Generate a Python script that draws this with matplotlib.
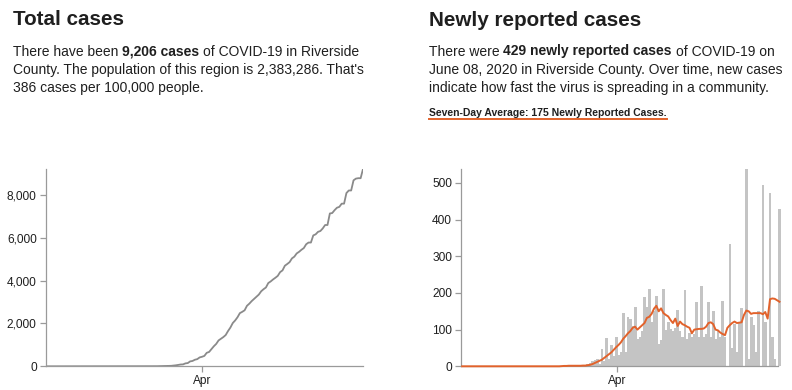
import matplotlib
matplotlib.use("Agg")
import matplotlib.pyplot as plt
import matplotlib.dates as mdates
from matplotlib.ticker import FuncFormatter
import numpy as np
import datetime as dt

plt.rcParams['font.family'] = ['Liberation Sans', 'DejaVu Sans']

# ---------------- data ----------------
start_date = dt.date(2020, 1, 26)
end_date = dt.date(2020, 6, 8)

daily_new = [
    # Jan 26 - Mar 7
    0, 0, 0, 0, 0, 0, 0, 0, 0, 0,
    0, 0, 0, 0, 0, 0, 0, 0, 0, 0,
    0, 0, 0, 0, 0, 0, 0, 0, 0, 0,
    0, 0, 0, 0, 0, 0, 0, 0, 0, 0,
    0, 0,
    # Mar 8 - Mar 16
    0, 1, 0, 2, 1, 1, 2, 1, 2,
    # Mar 17 - Mar 23
    3, 4, 5, 10, 15, 18, 19,
    # Mar 24 - Mar 30
    5, 47, 15, 78, 20, 57, 28,
    # Mar 31 - Apr 6
    80, 30, 40, 145, 40, 135, 130,
    # Apr 7 - Apr 13
    110, 163, 75, 80, 95, 188, 163,
    # Apr 14 - Apr 20
    210, 120, 150, 193, 60, 72, 210,
    # Apr 21 - Apr 27
    100, 120, 101, 97, 105, 154, 97,
    # Apr 28 - May 4
    80, 207, 75, 92, 80, 88, 175,
    # May 5 - May 11
    80, 218, 80, 88, 175, 80, 151,
    # May 12 - May 18
    75, 95, 80, 178, 80, 0, 333,
    # May 19 - May 25
    50, 115, 40, 120, 160, 0, 538,
    # May 26 - Jun 1
    20, 135, 113, 40, 150, 0, 495,
    # Jun 2 - Jun 8
    120, 0, 473, 80, 20, 0, 429,
]

seven_day_avg = [
    # Jan 26 - Mar 7
    0, 0, 0, 0, 0, 0, 0, 0, 0, 0,
    0, 0, 0, 0, 0, 0, 0, 0, 0, 0,
    0, 0, 0, 0, 0, 0, 0, 0, 0, 0,
    0, 0, 0, 0, 0, 0, 0, 0, 0, 0,
    0, 0,
    # Mar 8 - Mar 19
    0.5, 1, 1, 1.5, 1.5, 1.5, 1.5, 1.5, 1.5, 2, 2, 3,
    # Mar 20 - Mar 31
    4, 6, 9, 12, 15, 18, 23, 28, 33, 38, 45, 52,
    # Apr 1 - Jun 8
    58, 65, 75, 82, 90, 96, 105, 108, 100, 106,
    112, 118, 132, 135, 143, 157, 165, 150, 158, 145,
    140, 136, 126, 118, 130, 110, 122, 115, 112, 108,
    105, 90, 100, 101, 102, 102, 103, 108, 118, 120,
    115, 100, 98, 92, 88, 85, 105, 112, 118, 122,
    118, 119, 120, 140, 152, 150, 143, 145, 145, 145,
    145, 142, 148, 130, 183, 185, 184, 180, 176,
]

total_ticks = [0, 2000, 4000, 6000, 8000]
new_ticks = [0, 100, 200, 300, 400, 500]
x_tick_dates = [dt.date(2020, 4, 1)]
x_tick_labels = ["Apr"]

dates = [start_date + dt.timedelta(days=i) for i in range(len(daily_new))]
total_cases = np.cumsum(daily_new)

# ---------------- style ----------------
TXT = "#1f1f1f"
AXC = "#9a9a9a"
BAR = "#c4c4c4"
CUM = "#8a8a8a"
ORANGE = "#e2622b"

W, H = 792, 390
fig = plt.figure(figsize=(W / 100, H / 100), dpi=100)
fig.patch.set_facecolor("white")


def fx(px):
    return px / W


def fy(py):
    return 1 - py / H


def rich_line(x_px, y_px, parts, size, gap_em=0.278):
    first_txt, first_w = parts[0]
    prev = fig.text(fx(x_px), fy(y_px), first_txt, fontsize=size,
                    fontweight=first_w, color=TXT, va="baseline", ha="left")
    for txt, w in parts[1:]:
        prev = fig.add_artist(matplotlib.text.Annotation(
            txt, xy=(1, 0), xycoords=prev, xytext=(gap_em * size, 0),
            textcoords="offset points", fontsize=size, fontweight=w,
            color=TXT, va="bottom", ha="left"))
    return prev


# Titles
fig.text(fx(13), fy(25), "Total cases", fontsize=14.9, fontweight="bold",
         color=TXT, va="baseline", ha="left")
fig.text(fx(429), fy(26), "Newly reported cases", fontsize=14.9,
         fontweight="bold", color=TXT, va="baseline", ha="left")

PS = 10.0
rich_line(13, 55.5, [("There have been", "normal"), ("9,206 cases", "bold"),
                     ("of COVID-19 in Riverside", "normal")], PS)
rich_line(13, 73.8, [("County. The population of this region is 2,383,286. That's", "normal")], PS)
rich_line(13, 92, [("386 cases per 100,000 people.", "normal")], PS)

rich_line(429, 55.5, [("There were", "normal"), ("429 newly reported cases", "bold"),
                      ("of COVID-19 on", "normal")], PS)
rich_line(429, 73.8, [("June 08, 2020 in Riverside County. Over time, new cases", "normal")], PS)
rich_line(429, 92, [("indicate how fast the virus is spreading in a community.", "normal")], PS)

sub = fig.text(fx(429), fy(116), "Seven-Day Average: 175 Newly Reported Cases.",
               fontsize=7.5, fontweight="bold", color=TXT, va="baseline", ha="left")
fig.canvas.draw()
bb = sub.get_window_extent()
fig.add_artist(plt.Line2D([fx(429), fx(429) + bb.width / W],
                          [fy(119), fy(119)], color=ORANGE, lw=1.4,
                          transform=fig.transFigure))

# ---------------- axes ----------------
y0_px, ytop_px = 366.3, 169.0


def make_axes(x0_px, x1_px):
    ax = fig.add_axes([fx(x0_px), fy(y0_px), (x1_px - x0_px) / W,
                       (y0_px - ytop_px) / H])
    for s in ["top", "right"]:
        ax.spines[s].set_visible(False)
    for s in ["left", "bottom"]:
        ax.spines[s].set_color(AXC)
        ax.spines[s].set_linewidth(0.9)
    ax.tick_params(axis="both", colors=AXC, labelcolor=TXT, labelsize=8.6,
                   length=4.5, width=0.9, pad=2)
    ax.set_xlim(start_date, end_date)
    ax.set_xticks(x_tick_dates)
    ax.set_xticklabels(x_tick_labels)
    ax.set_facecolor("none")
    return ax


ax1 = make_axes(45.7, 363.0)
ax1.plot(dates, total_cases, color=CUM, lw=1.3, solid_joinstyle="round")
ax1.set_ylim(0, total_cases[-1])
ax1.set_yticks(total_ticks)
ax1.yaxis.set_major_formatter(FuncFormatter(lambda v, p: f"{int(v):,}"))

ax2 = make_axes(461.0, 778.3)
bar_dates = mdates.date2num(dates)
ax2.bar(bar_dates, daily_new, width=1.12, align="edge", color=BAR,
        linewidth=0, clip_on=False, zorder=1)
ax2.plot(bar_dates + 0.5, seven_day_avg, color=ORANGE, lw=1.4,
         clip_on=False, solid_joinstyle="round", zorder=3)
ax2.set_ylim(0, max(daily_new))
ax2.set_yticks(new_ticks)
ax2.set_xlim(mdates.date2num(start_date), mdates.date2num(end_date))

fig.savefig("out.png", dpi=100, facecolor="white")
